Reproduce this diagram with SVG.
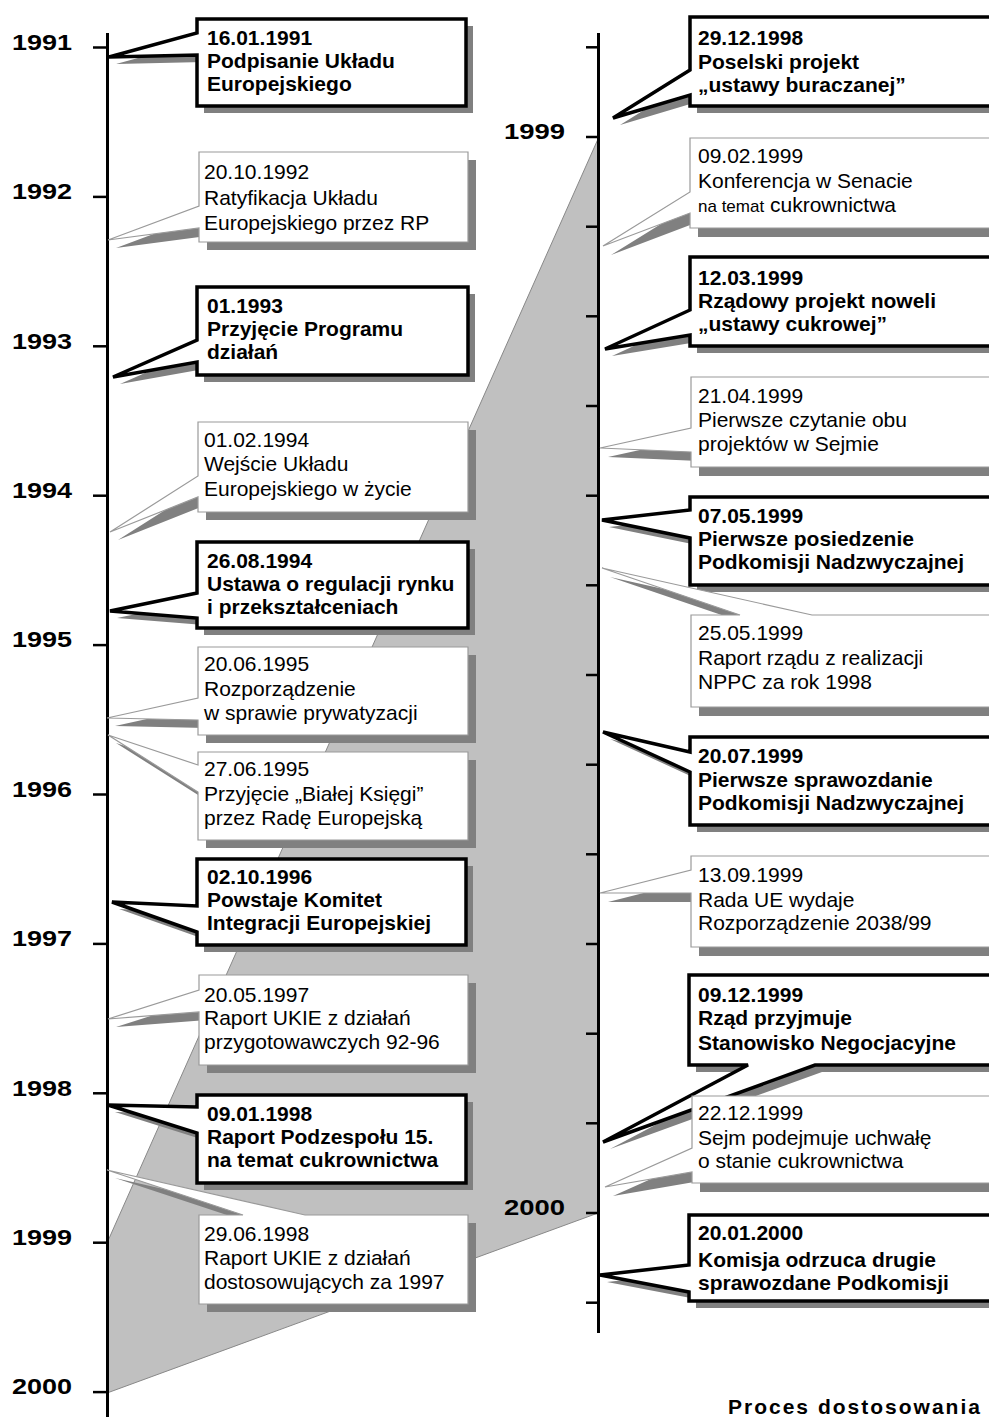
<svg xmlns="http://www.w3.org/2000/svg" width="989" height="1417" viewBox="0 0 989 1417">
<style>
.bg{fill:#fff}
.band{fill:#c0c0c0;stroke:#888;stroke-width:1}
.axis{stroke:#000;stroke-width:3;fill:none}
.tick{stroke:#000;stroke-width:2.5}
.sh{fill:#808080}
.bold{fill:#fff;stroke:#000;stroke-width:3.5;stroke-linejoin:miter;stroke-miterlimit:4}
.thin{fill:#fff;stroke:#9a9a9a;stroke-width:1.2}
.tb{font-family:"Liberation Sans",Arial,sans-serif;font-weight:bold;font-size:21px;fill:#000}
.tr{font-family:"Liberation Sans",Arial,sans-serif;font-size:21px;fill:#000}
.yr{font-family:"Liberation Sans",Arial,sans-serif;font-weight:bold;font-size:22px;fill:#000}
</style>
<rect class="bg" x="0" y="0" width="989" height="1417"/>
<g id="connectors">
<polygon id="zoom-band" class="band" points="107,1243 598,139 598,1213 107,1393"/>
</g>
<g id="axis-left">
<line class="axis" x1="107.5" y1="33" x2="107.5" y2="1417"/>
<line class="tick" x1="93" y1="47.5" x2="107" y2="47.5"/>
<line class="tick" x1="93" y1="196.9" x2="107" y2="196.9"/>
<line class="tick" x1="93" y1="346.3" x2="107" y2="346.3"/>
<line class="tick" x1="93" y1="495.7" x2="107" y2="495.7"/>
<line class="tick" x1="93" y1="645.1" x2="107" y2="645.1"/>
<line class="tick" x1="93" y1="794.5" x2="107" y2="794.5"/>
<line class="tick" x1="93" y1="943.9" x2="107" y2="943.9"/>
<line class="tick" x1="93" y1="1093.3" x2="107" y2="1093.3"/>
<line class="tick" x1="93" y1="1242.7" x2="107" y2="1242.7"/>
<line class="tick" x1="93" y1="1392.1" x2="107" y2="1392.1"/>
<text class="yr" x="12" y="49.5" textLength="60" lengthAdjust="spacingAndGlyphs">1991</text>
<text class="yr" x="12" y="199" textLength="60" lengthAdjust="spacingAndGlyphs">1992</text>
<text class="yr" x="12" y="348.5" textLength="60" lengthAdjust="spacingAndGlyphs">1993</text>
<text class="yr" x="12" y="497.5" textLength="60" lengthAdjust="spacingAndGlyphs">1994</text>
<text class="yr" x="12" y="647" textLength="60" lengthAdjust="spacingAndGlyphs">1995</text>
<text class="yr" x="12" y="796.5" textLength="60" lengthAdjust="spacingAndGlyphs">1996</text>
<text class="yr" x="12" y="946" textLength="60" lengthAdjust="spacingAndGlyphs">1997</text>
<text class="yr" x="12" y="1095.5" textLength="60" lengthAdjust="spacingAndGlyphs">1998</text>
<text class="yr" x="12" y="1245" textLength="60" lengthAdjust="spacingAndGlyphs">1999</text>
<text class="yr" x="12" y="1394" textLength="60" lengthAdjust="spacingAndGlyphs">2000</text>
</g>
<g id="axis-right">
<line class="axis" x1="598.5" y1="33" x2="598.5" y2="1333"/>
<line class="tick" x1="586" y1="47.3" x2="598" y2="47.3"/>
<line class="tick" x1="586" y1="137" x2="598" y2="137"/>
<line class="tick" x1="586" y1="226.7" x2="598" y2="226.7"/>
<line class="tick" x1="586" y1="316.3" x2="598" y2="316.3"/>
<line class="tick" x1="586" y1="406" x2="598" y2="406"/>
<line class="tick" x1="586" y1="495.7" x2="598" y2="495.7"/>
<line class="tick" x1="586" y1="585.3" x2="598" y2="585.3"/>
<line class="tick" x1="586" y1="675" x2="598" y2="675"/>
<line class="tick" x1="586" y1="764.7" x2="598" y2="764.7"/>
<line class="tick" x1="586" y1="854.3" x2="598" y2="854.3"/>
<line class="tick" x1="586" y1="944" x2="598" y2="944"/>
<line class="tick" x1="586" y1="1033.7" x2="598" y2="1033.7"/>
<line class="tick" x1="586" y1="1123.3" x2="598" y2="1123.3"/>
<line class="tick" x1="586" y1="1213" x2="598" y2="1213"/>
<line class="tick" x1="586" y1="1302.7" x2="598" y2="1302.7"/>
<text class="yr" x="504" y="139" textLength="61" lengthAdjust="spacingAndGlyphs">1999</text>
<text class="yr" x="504" y="1215" textLength="61" lengthAdjust="spacingAndGlyphs">2000</text>
</g>

<g id="n1991">
<path class="sh" transform="translate(7,7)" d="M197,19 H466 V106 H197 V55 L109,57 L197,33 Z"/>
<path class="bold" d="M197,19 H466 V106 H197 V55 L109,57 L197,33 Z"/>
<text class="tb"><tspan x="207" y="45">16.01.1991</tspan><tspan x="207" y="68">Podpisanie Układu</tspan><tspan x="207" y="91">Europejskiego</tspan></text>
</g>
<g id="n1992">
<path class="sh" transform="translate(8,8)" d="M199,152 H468 V242 H199 V228 L108,240 L199,206 Z"/>
<path class="thin" d="M199,152 H468 V242 H199 V228 L108,240 L199,206 Z"/>
<text class="tr"><tspan x="204" y="179">20.10.1992</tspan><tspan x="204" y="205">Ratyfikacja Układu</tspan><tspan x="204" y="230">Europejskiego przez RP</tspan></text>
</g>
<g id="n1993">
<path class="sh" transform="translate(7,7)" d="M197,287 H468 V375 H197 V362 L113,377 L197,340 Z"/>
<path class="bold" d="M197,287 H468 V375 H197 V362 L113,377 L197,340 Z"/>
<text class="tb"><tspan x="207" y="313">01.1993</tspan><tspan x="207" y="336">Przyjęcie Programu</tspan><tspan x="207" y="359">działań</tspan></text>
</g>
<g id="n1994a">
<path class="sh" transform="translate(8,8)" d="M198,422 H468 V512 H198 V497 L110,532 L198,476 Z"/>
<path class="thin" d="M198,422 H468 V512 H198 V497 L110,532 L198,476 Z"/>
<text class="tr"><tspan x="204" y="447">01.02.1994</tspan><tspan x="204" y="471">Wejście Układu</tspan><tspan x="204" y="496">Europejskiego w życie</tspan></text>
</g>
<g id="n1994b">
<path class="sh" transform="translate(7,7)" d="M197,542 H468 V628 H197 V618 L110,611 L197,593 Z"/>
<path class="bold" d="M197,542 H468 V628 H197 V618 L110,611 L197,593 Z"/>
<text class="tb"><tspan x="207" y="568">26.08.1994</tspan><tspan x="207" y="591">Ustawa o regulacji rynku</tspan><tspan x="207" y="614">i przekształceniach</tspan></text>
</g>
<g id="n1995a">
<path class="sh" transform="translate(8,8)" d="M198,647 H468 V735 H198 V720 L107,718 L198,698 Z"/>
<path class="thin" d="M198,647 H468 V735 H198 V720 L107,718 L198,698 Z"/>
<text class="tr"><tspan x="204" y="671">20.06.1995</tspan><tspan x="204" y="696">Rozporządzenie</tspan><tspan x="204" y="720">w sprawie prywatyzacji</tspan></text>
</g>
<g id="n1995b">
<path class="sh" transform="translate(8,8)" d="M198,752 H468 V840 H198 V792 L108,735 L198,765 Z"/>
<path class="thin" d="M198,752 H468 V840 H198 V792 L108,735 L198,765 Z"/>
<text class="tr"><tspan x="204" y="776">27.06.1995</tspan><tspan x="204" y="801">Przyjęcie „Białej Księgi”</tspan><tspan x="204" y="825">przez Radę Europejską</tspan></text>
</g>
<g id="n1996">
<path class="sh" transform="translate(7,7)" d="M197,859 H466 V945 H197 V932 L112,902 L197,906 Z"/>
<path class="bold" d="M197,859 H466 V945 H197 V932 L112,902 L197,906 Z"/>
<text class="tb"><tspan x="207" y="884">02.10.1996</tspan><tspan x="207" y="907">Powstaje Komitet</tspan><tspan x="207" y="930">Integracji Europejskiej</tspan></text>
</g>
<g id="n1997">
<path class="sh" transform="translate(8,8)" d="M199,975 H468 V1065 H199 V1012 L108,1019 L199,990 Z"/>
<path class="thin" d="M199,975 H468 V1065 H199 V1012 L108,1019 L199,990 Z"/>
<text class="tr"><tspan x="204" y="1002">20.05.1997</tspan><tspan x="204" y="1025">Raport UKIE z działań</tspan><tspan x="204" y="1049">przygotowawczych 92-96</tspan></text>
</g>
<g id="n1998a">
<path class="sh" transform="translate(7,7)" d="M197,1095 H466 V1183 H197 V1133 L108,1105 L197,1107 Z"/>
<path class="bold" d="M197,1095 H466 V1183 H197 V1133 L108,1105 L197,1107 Z"/>
<text class="tb"><tspan x="207" y="1121">09.01.1998</tspan><tspan x="207" y="1144">Raport Podzespołu 15.</tspan><tspan x="207" y="1167">na temat cukrownictwa</tspan></text>
</g>
<g id="n1998b">
<path class="sh" transform="translate(8,8)" d="M199,1215 H243 L107,1170 L305,1215 H468 V1304 H199 Z"/>
<path class="thin" d="M199,1215 H243 L107,1170 L305,1215 H468 V1304 H199 Z"/>
<text class="tr"><tspan x="204" y="1241">29.06.1998</tspan><tspan x="204" y="1265">Raport UKIE z działań</tspan><tspan x="204" y="1289">dostosowujących za 1997</tspan></text>
</g>

<g id="n1998c">
<path class="sh" transform="translate(7,7)" d="M690,17 H995 V106 H690 V95 L613,118 L690,70 Z"/>
<path class="bold" d="M690,17 H995 V106 H690 V95 L613,118 L690,70 Z"/>
<text class="tb"><tspan x="698" y="45">29.12.1998</tspan><tspan x="698" y="69">Poselski projekt</tspan><tspan x="698" y="92">„ustawy buraczanej”</tspan></text>
</g>
<g id="n1999a">
<path class="sh" transform="translate(8,9)" d="M690,138 H995 V228 H690 V213 L603,246 L690,192 Z"/>
<path class="thin" d="M690,138 H995 V228 H690 V213 L603,246 L690,192 Z"/>
<text class="tr"><tspan x="698" y="163">09.02.1999</tspan><tspan x="698" y="188">Konferencja w Senacie</tspan><tspan x="698" y="212"><tspan font-size="17">na temat</tspan> cukrownictwa</tspan></text>
</g>
<g id="n1999b">
<path class="sh" transform="translate(7,7)" d="M690,257 H995 V346 H690 V335 L605,349 L690,310 Z"/>
<path class="bold" d="M690,257 H995 V346 H690 V335 L605,349 L690,310 Z"/>
<text class="tb"><tspan x="698" y="285">12.03.1999</tspan><tspan x="698" y="308">Rządowy projekt noweli</tspan><tspan x="698" y="331">„ustawy cukrowej”</tspan></text>
</g>
<g id="n1999c">
<path class="sh" transform="translate(8,9)" d="M691,377 H995 V467 H691 V452 L600,448 L691,428 Z"/>
<path class="thin" d="M691,377 H995 V467 H691 V452 L600,448 L691,428 Z"/>
<text class="tr"><tspan x="698" y="403">21.04.1999</tspan><tspan x="698" y="427">Pierwsze czytanie obu</tspan><tspan x="698" y="451">projektów w Sejmie</tspan></text>
</g>
<g id="n1999d">
<path class="sh" transform="translate(7,7)" d="M690,497 H995 V585 H690 V538 L602,520 L690,510 Z"/>
<path class="bold" d="M690,497 H995 V585 H690 V538 L602,520 L690,510 Z"/>
<text class="tb"><tspan x="698" y="523">07.05.1999</tspan><tspan x="698" y="546">Pierwsze posiedzenie</tspan><tspan x="698" y="569">Podkomisji Nadzwyczajnej</tspan></text>
</g>
<g id="n1999e">
<path class="sh" transform="translate(8,9)" d="M691,615 H740 L602,568 L812,615 H995 V707 H691 Z"/>
<path class="thin" d="M691,615 H740 L602,568 L812,615 H995 V707 H691 Z"/>
<text class="tr"><tspan x="698" y="640">25.05.1999</tspan><tspan x="698" y="665">Raport rządu z realizacji</tspan><tspan x="698" y="689">NPPC za rok 1998</tspan></text>
</g>
<g id="n1999f">
<path class="sh" transform="translate(7,7)" d="M690,737 H995 V825 H690 V772 L603,732 L690,752 Z"/>
<path class="bold" d="M690,737 H995 V825 H690 V772 L603,732 L690,752 Z"/>
<text class="tb"><tspan x="698" y="763">20.07.1999</tspan><tspan x="698" y="787">Pierwsze sprawozdanie</tspan><tspan x="698" y="810">Podkomisji Nadzwyczajnej</tspan></text>
</g>
<g id="n1999g">
<path class="sh" transform="translate(8,9)" d="M691,856 H995 V947 H691 V893 L600,893 L691,870 Z"/>
<path class="thin" d="M691,856 H995 V947 H691 V893 L600,893 L691,870 Z"/>
<text class="tr"><tspan x="698" y="882">13.09.1999</tspan><tspan x="698" y="907">Rada UE wydaje</tspan><tspan x="698" y="930">Rozporządzenie 2038/99</tspan></text>
</g>
<g id="n1999h">
<path class="sh" transform="translate(7,7)" d="M689,975 H995 V1065 H815 L603,1142 L748,1065 H689 Z"/>
<path class="bold" d="M689,975 H995 V1065 H815 L603,1142 L748,1065 H689 Z"/>
<text class="tb"><tspan x="698" y="1002">09.12.1999</tspan><tspan x="698" y="1025">Rząd przyjmuje</tspan><tspan x="698" y="1050">Stanowisko Negocjacyjne</tspan></text>
</g>
<g id="n1999i">
<path class="sh" transform="translate(8,9)" d="M692,1096 H995 V1183 H692 V1172 L605,1187 L692,1148 Z"/>
<path class="thin" d="M692,1096 H995 V1183 H692 V1172 L605,1187 L692,1148 Z"/>
<text class="tr"><tspan x="698" y="1120">22.12.1999</tspan><tspan x="698" y="1145">Sejm podejmuje uchwałę</tspan><tspan x="698" y="1168">o stanie cukrownictwa</tspan></text>
</g>
<g id="n2000">
<path class="sh" transform="translate(7,7)" d="M689,1215 H995 V1301 H689 V1292 L600,1275 L689,1265 Z"/>
<path class="bold" d="M689,1215 H995 V1301 H689 V1292 L600,1275 L689,1265 Z"/>
<text class="tb"><tspan x="698" y="1240">20.01.2000</tspan><tspan x="698" y="1267">Komisja odrzuca drugie</tspan><tspan x="698" y="1290">sprawozdane Podkomisji</tspan></text>
</g>
<g id="caption">
<text class="tb" x="728" y="1414" font-size="20" letter-spacing="2">Proces dostosowania</text>
</g>
</svg>
